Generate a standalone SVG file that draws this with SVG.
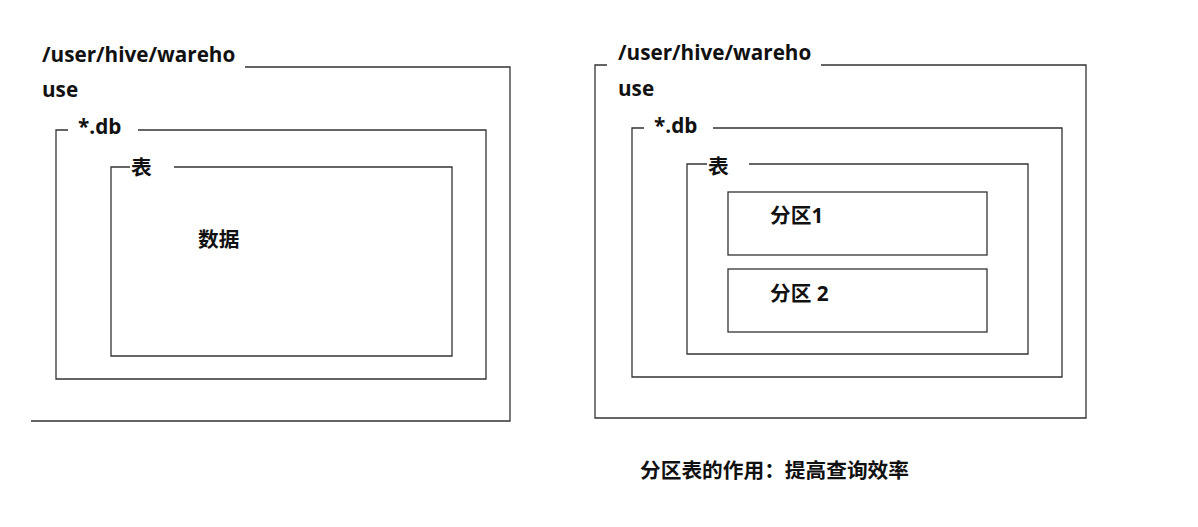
<svg xmlns="http://www.w3.org/2000/svg" width="1198" height="527" viewBox="0 0 1198 527">
<style>
.t{font-family:"Open Sans","Noto Sans CJK SC",sans-serif;font-weight:bold;font-size:20.7px;fill:#111}
.l{stroke:#333;stroke-width:1.3;fill:none}
</style>
<rect width="1198" height="527" fill="#fff"/>
<g id="left-warehouse">
<polyline class="l" points="245,67 510,67 510,421 31,421"/>
<text class="t" x="42" y="62">/user/hive/wareho</text>
<text class="t" x="42" y="97">use</text>
</g>
<g id="left-db">
<polyline class="l" points="68,130 56,130 56,379 486,379 486,130 138,130"/>
<text class="t" x="78" y="134">*.db</text>
</g>
<g id="left-table">
<polyline class="l" points="130,167 111,167 111,356 452,356 452,167 174,167"/>
<text class="t" x="131" y="175">表</text>
<text class="t" x="198" y="247">数据</text>
</g>
<g id="right-warehouse">
<polyline class="l" points="607,65 595,65 595,418 1086,418 1086,65 821,65"/>
<text class="t" x="618" y="60">/user/hive/wareho</text>
<text class="t" x="618" y="96">use</text>
</g>
<g id="right-db">
<polyline class="l" points="644,128 632,128 632,377 1062,377 1062,128 713,128"/>
<text class="t" x="654" y="133">*.db</text>
</g>
<g id="right-table">
<polyline class="l" points="707,164 687,164 687,354 1028,354 1028,164 749,164"/>
<text class="t" x="708" y="174">表</text>
</g>
<g id="partition1">
<rect class="l" x="728" y="192" width="259" height="63"/>
<text class="t" x="770" y="223">分区1</text>
</g>
<g id="partition2">
<rect class="l" x="728" y="269" width="259" height="63"/>
<text class="t" x="770" y="301">分区 2</text>
</g>
<g id="caption">
<text class="t" x="640" y="478">分区表的作用：提高查询效率</text>
</g>
<g id="connectors"/>
</svg>
